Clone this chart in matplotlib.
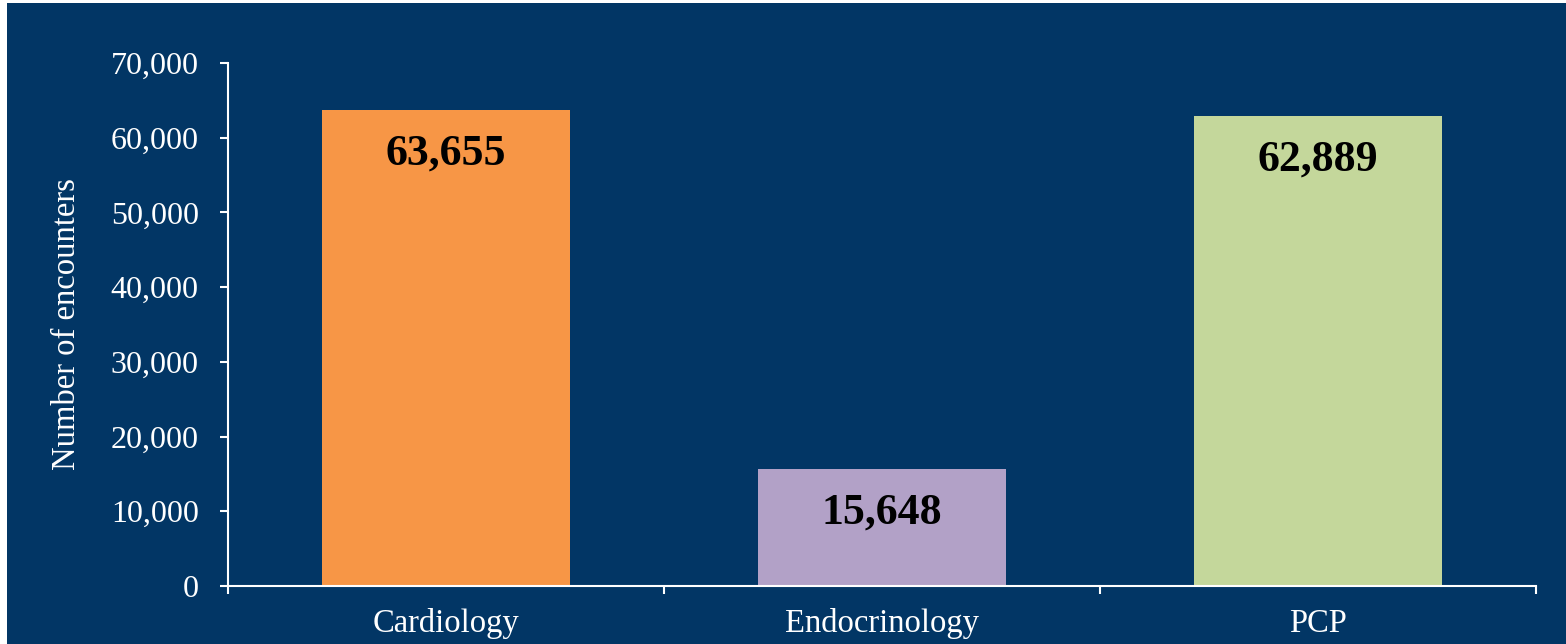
import matplotlib.pyplot as plt
from matplotlib.patches import Rectangle
from matplotlib.ticker import FuncFormatter, FixedLocator

# --- Dados ---
categorias = ['Cardiology', 'Endocrinology', 'PCP']
encontros = [63655, 15648, 62889]
cores = ['#F79646', '#B2A1C7', '#C4D79B']
y_ticks = [0, 10000, 20000, 30000, 40000, 50000, 60000, 70000]

NAVY = '#023665'

plt.rcParams['font.family'] = ['Liberation Serif', 'DejaVu Serif']

fig = plt.figure(figsize=(15.66, 6.44), dpi=100, facecolor='white')
# fundo azul (com a borda branca fina do original)
fig.patches.append(Rectangle((7 / 1566, 0), 1, 1 - 3 / 644, transform=fig.transFigure,
                             facecolor=NAVY, edgecolor='none', zorder=-10))

ax = fig.add_axes([228 / 1566, 1 - 586 / 644, (1536 - 228) / 1566, (586 - 63) / 644])
ax.set_facecolor(NAVY)

x = range(len(categorias))
bars = ax.bar(x, encontros, width=0.57, color=cores, zorder=2)

for b, v in zip(bars, encontros):
    ax.annotate(f'{v:,}', (b.get_x() + b.get_width() / 2, v), xytext=(0, -31),
                textcoords='offset points', ha='center', va='center',
                fontsize=31.5, fontweight='bold', color='black')

ax.set_xlim(-0.5, len(categorias) - 0.5)
ax.set_ylim(0, 70000)
ax.set_yticks(y_ticks)
ax.yaxis.set_major_formatter(FuncFormatter(lambda v, p: f'{int(v):,}'))

# ticks nas divisões, rótulos no centro
ax.xaxis.set_major_locator(FixedLocator([i - 0.5 for i in range(len(categorias) + 1)]))
ax.xaxis.set_major_formatter(FuncFormatter(lambda v, p: ''))
ax.xaxis.set_minor_locator(FixedLocator(list(x)))
ax.set_xticklabels(categorias, minor=True)
ax.tick_params(axis='x', which='minor', length=0, pad=16, labelsize=23.5, labelcolor='white')
ax.tick_params(axis='x', which='major', length=6, width=1.5, color='white', direction='out')
ax.tick_params(axis='y', length=6, width=1.5, color='white', labelsize=23,
               labelcolor='white', pad=15)

for s in ['top', 'right']:
    ax.spines[s].set_visible(False)
for s in ['left', 'bottom']:
    ax.spines[s].set_color('white')
    ax.spines[s].set_linewidth(1.5)

ax.set_ylabel('Number of encounters', fontsize=23.5, color='white', labelpad=21)

plt.savefig('out.png', dpi=100, facecolor=fig.get_facecolor())
